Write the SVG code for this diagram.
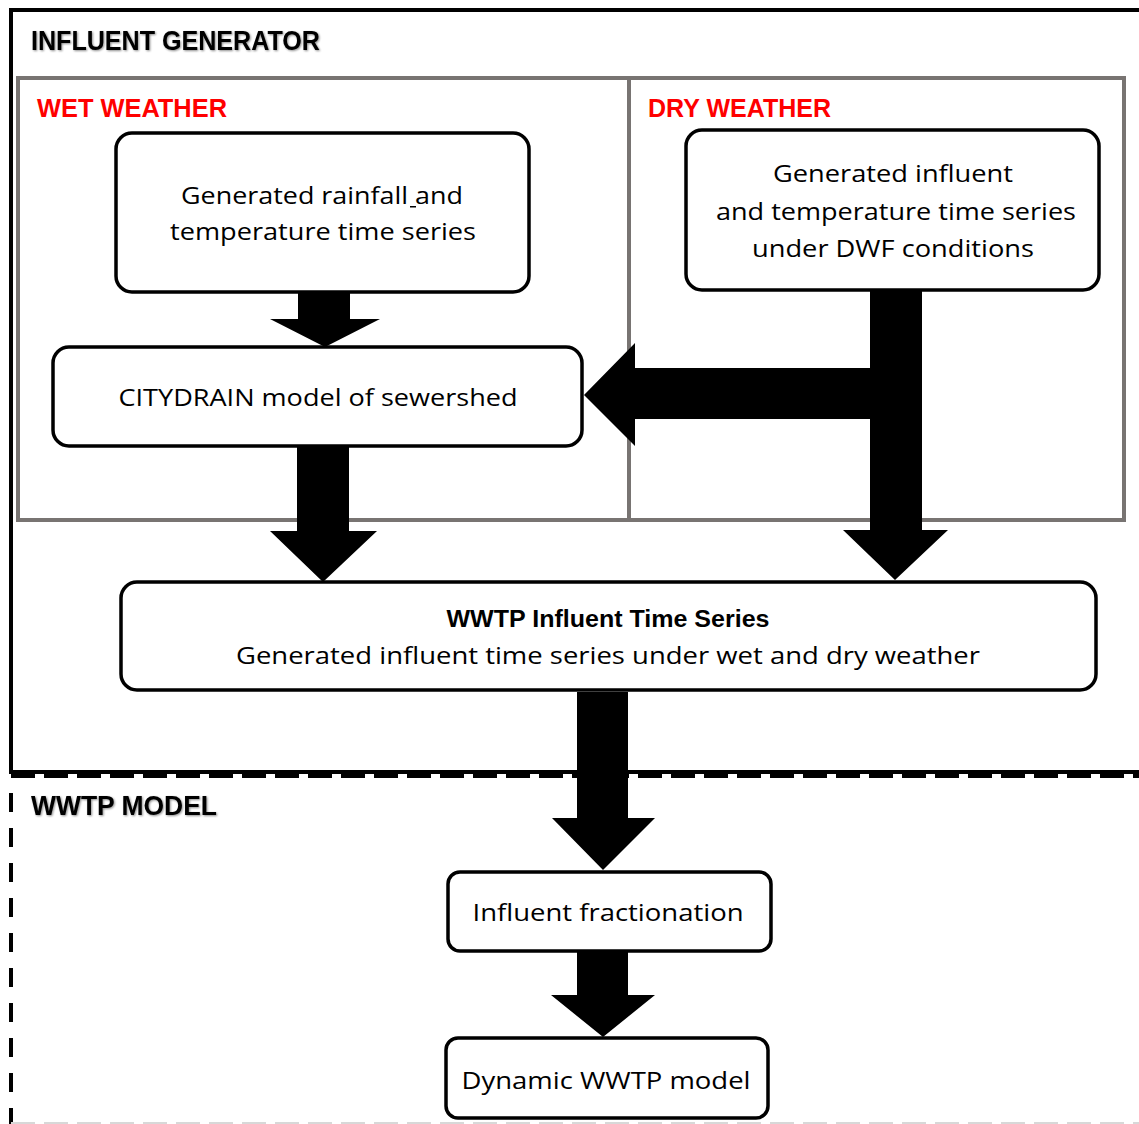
<svg xmlns="http://www.w3.org/2000/svg" width="1139" height="1124" viewBox="0 0 1139 1124">
  <style>
    .frame { fill: none; stroke: #000; stroke-width: 4; }
    .zone { fill: none; stroke: #787472; stroke-width: 4; }
    .box { fill: #fff; stroke: #000; stroke-width: 3.5; }
    .arrow { fill: #000; stroke: none; }
    .head { font-family: "Liberation Sans", Arial, sans-serif; font-weight: bold; font-size: 27px; fill: #000; }
    .zonelabel { font-family: "Liberation Sans", Arial, sans-serif; font-weight: bold; font-size: 26px; fill: #ff0000; }
    .lbl { font-family: "Open Sans", "Liberation Sans", Arial, sans-serif; font-size: 23px; fill: #000; text-anchor: middle; }
    .lblb { font-family: "Liberation Sans", Arial, sans-serif; font-weight: bold; font-size: 23px; fill: #000; text-anchor: middle; }
  </style>
  <defs>
    <filter id="soft" x="-5%" y="-20%" width="110%" height="140%">
      <feGaussianBlur in="SourceAlpha" stdDeviation="1.2" result="b"/>
      <feOffset in="b" dx="1" dy="1" result="o"/>
      <feComponentTransfer in="o" result="s"><feFuncA type="linear" slope="0.45"/></feComponentTransfer>
      <feMerge><feMergeNode in="s"/><feMergeNode in="SourceGraphic"/></feMerge>
    </filter>
  </defs>

  <rect width="1139" height="1124" fill="#fff"/>

  <!-- outer frames -->
  <g id="influent-generator">
    <path class="frame" d="M1145 10 H11 V772 H1145"/>
    <text class="head" x="31" y="50" textLength="289" lengthAdjust="spacingAndGlyphs" filter="url(#soft)">INFLUENT GENERATOR</text>
  </g>
  <g id="wwtp-model">
    <path d="M11 776 H1145" fill="none" stroke="#000" stroke-width="4" stroke-dasharray="24 9"/>
    <path d="M11 793 V1124" fill="none" stroke="#000" stroke-width="4" stroke-dasharray="19 16"/>
    <path d="M11 1123 H1139" fill="none" stroke="#d8d8d8" stroke-width="2" stroke-dasharray="24 9"/>
    <text class="head" x="31" y="815" textLength="186" lengthAdjust="spacingAndGlyphs" filter="url(#soft)">WWTP MODEL</text>
  </g>

  <!-- weather zones -->
  <g id="wet-weather">
    <rect class="zone" x="18" y="78" width="611" height="442"/>
    <text class="zonelabel" x="37" y="117" textLength="190" lengthAdjust="spacingAndGlyphs">WET WEATHER</text>
  </g>
  <g id="dry-weather">
    <rect class="zone" x="629" y="78" width="495" height="442"/>
    <text class="zonelabel" x="648" y="117" textLength="183" lengthAdjust="spacingAndGlyphs">DRY WEATHER</text>
  </g>

  <!-- connectors: block arrows -->
  <g id="connectors">
    <path class="arrow" d="M298 290 H350 V319 H380 L325 347 L270 319 H298 Z"/>
    <path class="arrow" d="M297 443 H349 V531 H377 L323 582 L270 531 H297 Z"/>
    <path class="arrow" d="M870 288 H922 V530 H948 L895 580 L843 530 H870 V419 H635 V446 L584 395 L635 343 V368 H870 Z"/>
    <path class="arrow" d="M577 692 H628 V818 H655 L603 870 L552 818 H577 Z"/>
    <path class="arrow" d="M577 949 H628 V995 H655 L603 1037 L551 995 H577 Z"/>
  </g>

  <!-- nodes -->
  <g id="rainfall-series">
    <rect class="box" x="116" y="133" width="413" height="159" rx="16"/>
    <text class="lbl" x="322" y="204" textLength="282" lengthAdjust="spacingAndGlyphs">Generated rainfall and</text>
    <rect x="410" y="206" width="6" height="1.5" fill="#000"/>
    <text class="lbl" x="323" y="240" textLength="306" lengthAdjust="spacingAndGlyphs">temperature time series</text>
  </g>

  <g id="dwf-series">
    <rect class="box" x="686" y="130" width="413" height="160" rx="16"/>
    <text class="lbl" x="893" y="182" textLength="240" lengthAdjust="spacingAndGlyphs">Generated influent</text>
    <text class="lbl" x="896" y="220" textLength="360" lengthAdjust="spacingAndGlyphs">and temperature time series</text>
    <text class="lbl" x="893" y="257" textLength="282" lengthAdjust="spacingAndGlyphs">under DWF conditions</text>
  </g>

  <g id="citydrain">
    <rect class="box" x="53" y="347" width="529" height="99" rx="16"/>
    <text class="lbl" x="318" y="406" textLength="399" lengthAdjust="spacingAndGlyphs">CITYDRAIN  model of sewershed</text>
  </g>

  <g id="wwtp-influent">
    <rect class="box" x="121" y="582" width="975" height="108" rx="16"/>
    <text class="lblb" x="608" y="627" textLength="323" lengthAdjust="spacingAndGlyphs">WWTP Influent Time Series</text>
    <text class="lbl" x="608" y="664" textLength="744" lengthAdjust="spacingAndGlyphs">Generated influent  time series under wet and dry weather</text>
  </g>

  <g id="fractionation">
    <rect class="box" x="448" y="872" width="323" height="79" rx="12"/>
    <text class="lbl" x="608" y="921" textLength="271" lengthAdjust="spacingAndGlyphs">Influent fractionation</text>
  </g>

  <g id="dynamic-wwtp">
    <rect class="box" x="446" y="1038" width="322" height="80" rx="12"/>
    <text class="lbl" x="606" y="1089" textLength="289" lengthAdjust="spacingAndGlyphs">Dynamic WWTP model</text>
  </g>
</svg>
